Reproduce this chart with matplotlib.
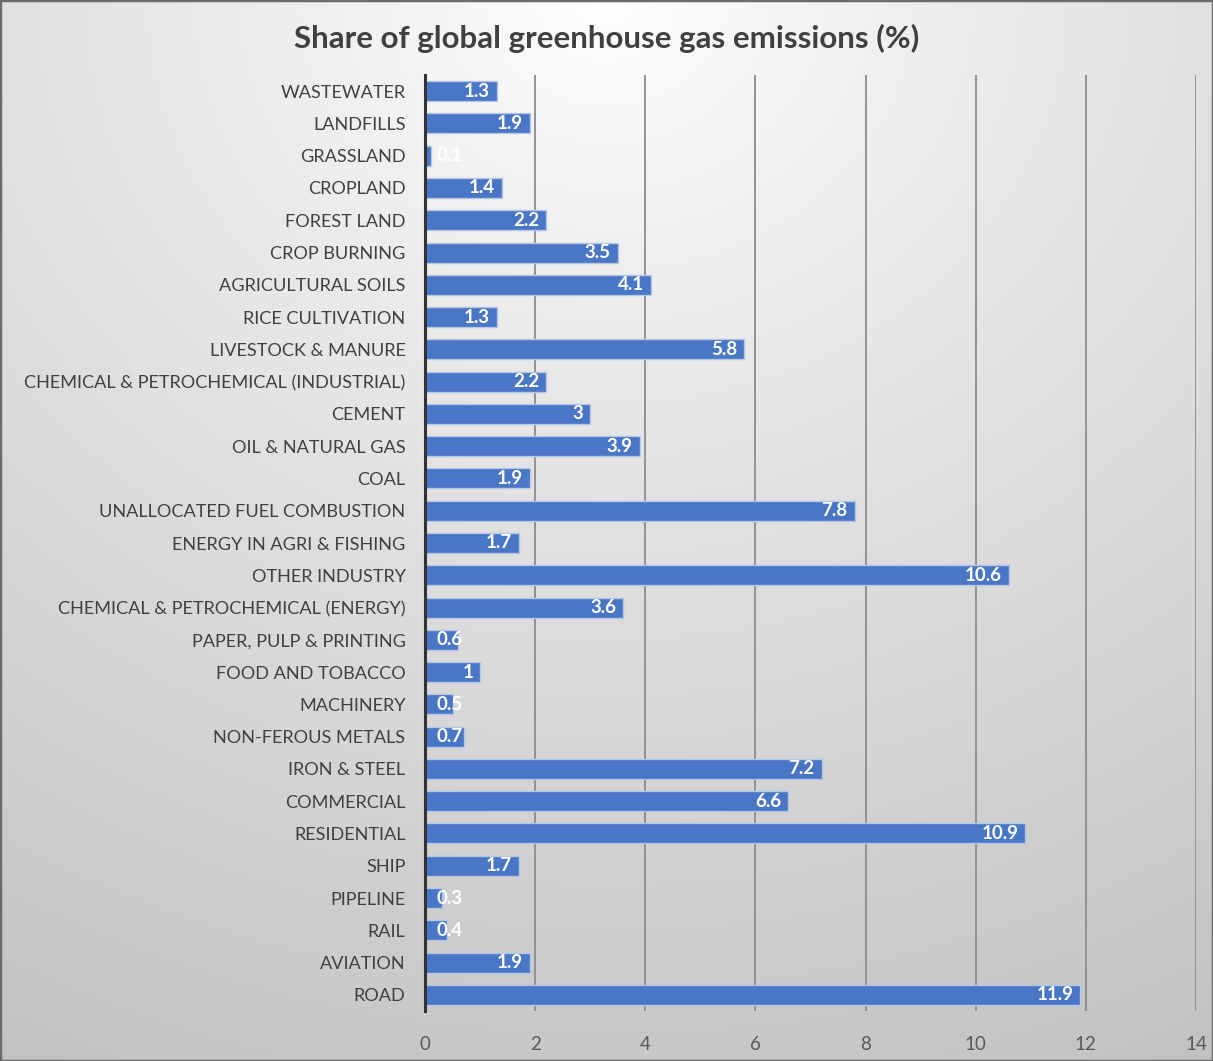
import numpy as np
import matplotlib
matplotlib.use("Agg")
import matplotlib.pyplot as plt
from matplotlib.patches import Rectangle

categories = ["WASTEWATER", "LANDFILLS", "GRASSLAND", "CROPLAND", "FOREST LAND",
              "CROP BURNING", "AGRICULTURAL SOILS", "RICE CULTIVATION",
              "LIVESTOCK & MANURE", "CHEMICAL & PETROCHEMICAL (INDUSTRIAL)",
              "CEMENT", "OIL & NATURAL GAS", "COAL", "UNALLOCATED FUEL COMBUSTION",
              "ENERGY IN AGRI & FISHING", "OTHER INDUSTRY",
              "CHEMICAL & PETROCHEMICAL (ENERGY)", "PAPER, PULP & PRINTING",
              "FOOD AND TOBACCO", "MACHINERY", "NON-FEROUS METALS", "IRON & STEEL",
              "COMMERCIAL", "RESIDENTIAL", "SHIP", "PIPELINE", "RAIL", "AVIATION", "ROAD"]
values = [1.3, 1.9, 0.1, 1.4, 2.2, 3.5, 4.1, 1.3, 5.8, 2.2, 3, 3.9, 1.9, 7.8, 1.7,
          10.6, 3.6, 0.6, 1, 0.5, 0.7, 7.2, 6.6, 10.9, 1.7, 0.3, 0.4, 1.9, 11.9]
value_labels = ["1.3", "1.9", "0.1", "1.4", "2.2", "3.5", "4.1", "1.3", "5.8", "2.2",
                "3", "3.9", "1.9", "7.8", "1.7", "10.6", "3.6", "0.6", "1", "0.5",
                "0.7", "7.2", "6.6", "10.9", "1.7", "0.3", "0.4", "1.9", "11.9"]
xticks = [0, 2, 4, 6, 8, 10, 12, 14]
title = "Share of global greenhouse gas emissions (%)"

FONT = ["Lato", "DejaVu Sans"]
plt.rcParams["font.family"] = FONT

W, H = 1213, 1061
fig = plt.figure(figsize=(W / 100, H / 100), dpi=100)

# background radial gradient
bg = fig.add_axes([0, 0, 1, 1], zorder=0)
yy, xx = np.mgrid[0:H, 0:W]
r = np.sqrt(((xx - W * 0.5) / W) ** 2 + ((yy - 0.0) / H) ** 2)
r = r / r.max()
g = 1.0 - 0.24 * r ** 0.9
bg.imshow(np.dstack([g, g, g]), aspect="auto", extent=[0, 1, 0, 1], origin="upper")
bg.set_xlim(0, 1); bg.set_ylim(0, 1)
bg.axis("off")
bg.add_patch(Rectangle((0, 0), 1, 1, transform=bg.transAxes, fill=False,
                       edgecolor="#6b6b6b", linewidth=2.5))

ax = fig.add_axes([425 / W, 1 - 1011 / H, (1196 - 425) / W, (1011 - 75) / H], zorder=1)
ax.patch.set_alpha(0)

y = np.arange(len(categories))
ax.barh(y, values, height=0.62, color="#4A76C6", edgecolor="#B4C7E7", linewidth=1.0,
        zorder=3)
ax.set_ylim(len(categories) - 0.5, -0.5)
ax.set_xlim(0, 14)
ax.set_yticks(y)
ax.set_yticklabels(categories, fontsize=13.1, color="#404040")
ax.set_xticks(xticks)
ax.set_xticklabels([str(t) for t in xticks], fontsize=13.5, color="#595959")
ax.tick_params(axis="y", length=0, pad=14)
ax.tick_params(axis="x", length=0, pad=18)
ax.grid(axis="x", color="#8c8c8c", linewidth=1.3, zorder=1)
ax.set_axisbelow(True)
for s in ["top", "right", "bottom"]:
    ax.spines[s].set_visible(False)
ax.spines["left"].set_color("#333333")
ax.spines["left"].set_linewidth(2.2)
ax.spines["left"].set_zorder(4)

for yi, v, lab in zip(y, values, value_labels):
    if v >= 0.8:
        ax.annotate(lab, (v, yi), xytext=(-5, 0), textcoords="offset points",
                    ha="right", va="center", color="white", fontsize=13.5,
                    fontweight="bold", zorder=5)
    else:
        ax.annotate(lab, (0, yi), xytext=(8, 0), textcoords="offset points",
                    ha="left", va="center", color="white", fontsize=13.5,
                    fontweight="bold", zorder=5)

fig.text(607 / W, 1 - 38 / H, title, ha="center", va="center", fontsize=22.5,
         fontweight="bold", color="#404040")

fig.savefig("out.png", dpi=100)
